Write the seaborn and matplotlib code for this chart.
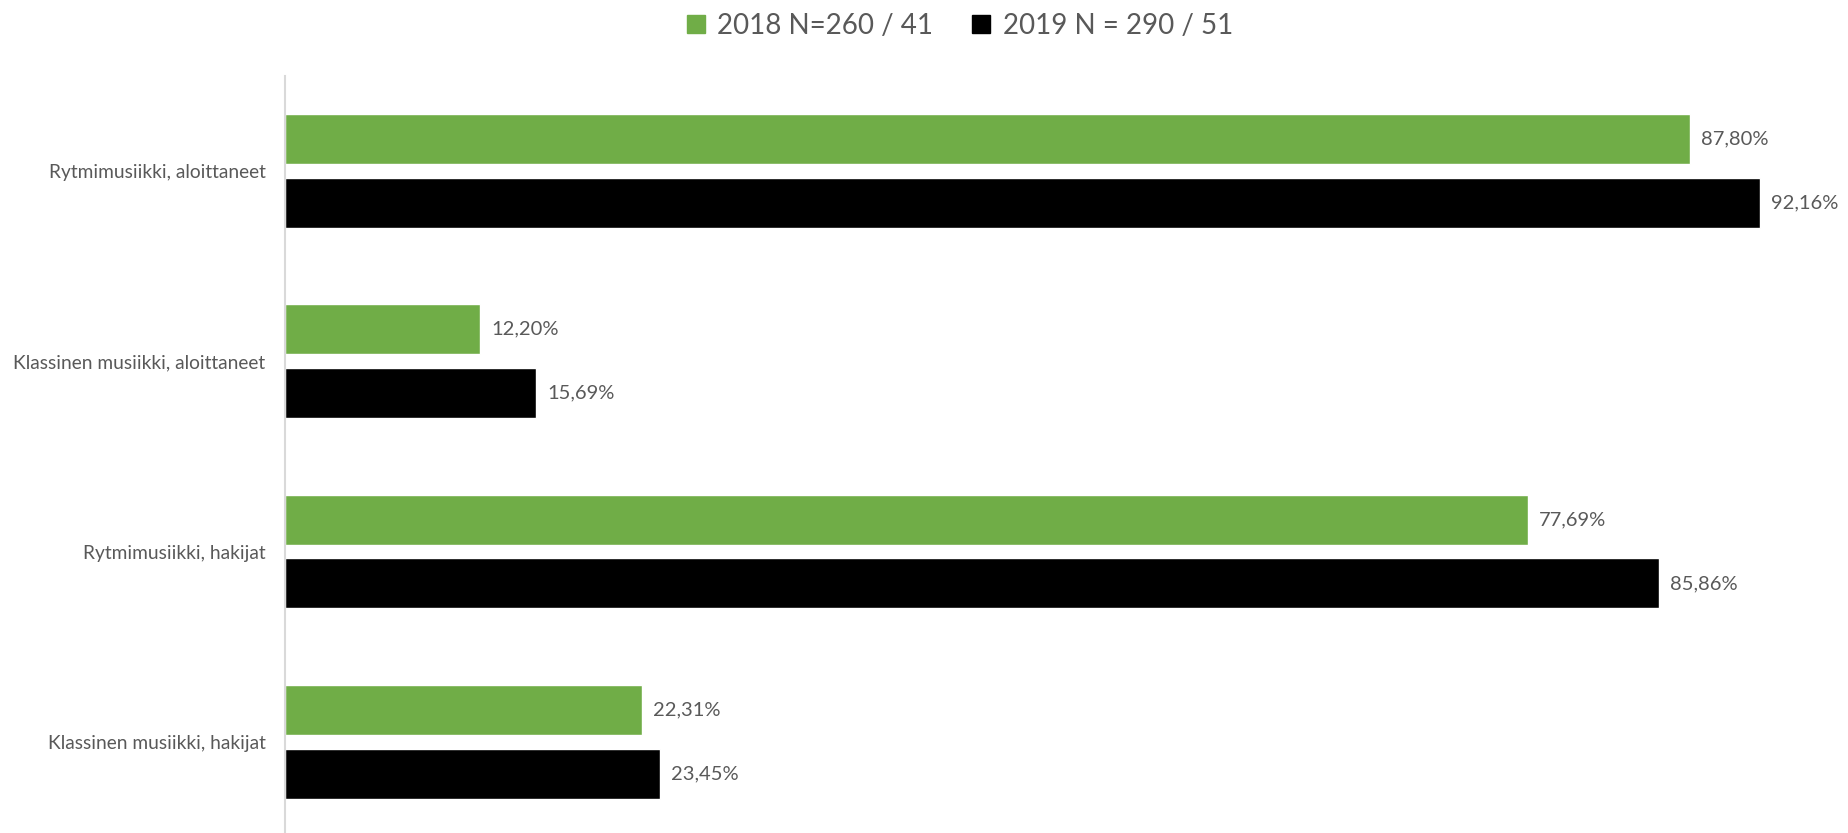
import matplotlib
matplotlib.use("Agg")
import matplotlib.pyplot as plt
import seaborn as sns
import pandas as pd
from matplotlib.patches import Patch

categories = ["Rytmimusiikki, aloittaneet", "Klassinen musiikki, aloittaneet",
              "Rytmimusiikki, hakijat", "Klassinen musiikki, hakijat"]
series_names = ["2018 N=260 / 41", "2019 N = 290 / 51"]
values_2018 = [87.80, 12.20, 77.69, 22.31]
values_2019 = [92.16, 15.69, 85.86, 23.45]
colors = ["#70AD47", "#000000"]

df = pd.DataFrame({
    "cat": categories * 2,
    "series": [series_names[0]] * 4 + [series_names[1]] * 4,
    "val": values_2018 + values_2019,
})

sns.set_theme(style="white")
plt.rcParams["font.family"] = ["Lato", "DejaVu Sans"]
text_color = "#595959"

fig = plt.figure(figsize=(18.49, 8.33), dpi=100)
ax = fig.add_axes([285 / 1849, 0.0, (1845 - 285) / 1849, (833 - 76) / 833])

sns.barplot(data=df, y="cat", x="val", hue="series", order=categories,
            hue_order=series_names, palette=colors, orient="h",
            width=0.672, gap=0.217, ax=ax, legend=False, saturation=1)

ax.set_xlim(0, 97.5)
ax.set_ylim(3.48, -0.5)
ax.set_xlabel("")
ax.set_ylabel("")
ax.set_xticks([])
for s in ["top", "right", "bottom"]:
    ax.spines[s].set_visible(False)
ax.spines["left"].set_color("#D9D9D9")
ax.spines["left"].set_linewidth(1.5)
ax.tick_params(axis="y", length=0, pad=14, labelsize=13.8, labelcolor=text_color)

for cont in ax.containers:
    labels = [f"{v:.2f}".replace(".", ",") + "%" for v in cont.datavalues]
    ax.bar_label(cont, labels=labels, padding=8, fontsize=14.5, color=text_color)

handles = [Patch(facecolor=c, edgecolor=c) for c in colors]
fig.legend(handles, series_names, loc="center", bbox_to_anchor=(0.519, 0.969),
           ncol=2, frameon=False, fontsize=20, labelcolor=text_color,
           handlelength=0.65, handleheight=0.65, handletextpad=0.45, columnspacing=1.4)

fig.savefig("out.png", dpi=100)
